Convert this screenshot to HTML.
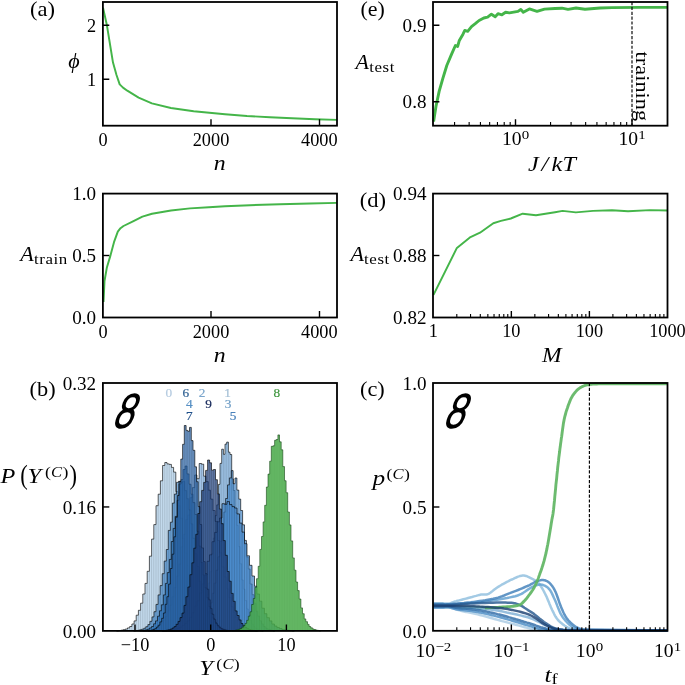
<!DOCTYPE html>
<html><head><meta charset="utf-8"><title>figure</title>
<style>
html,body{margin:0;padding:0;background:#fff;}
svg{display:block;font-family:"Liberation Serif", "DejaVu Serif", serif;}
</style></head><body>
<svg width="685" height="685" viewBox="0 0 685 685">
<rect width="685" height="685" fill="#fff"/>
<polyline points="103.0,7.6 106.8,24.7 113.0,62.6 116.5,75.0 119.7,84.4 123.0,87.6 127.3,90.7 138.6,97.7 151.9,103.4 170.9,108.0 193.7,111.3 225.0,114.2 247.0,116.0 270.0,117.3 292.0,118.3 315.0,119.2 337.0,119.9" fill="none" stroke="#44b549" stroke-width="1.95" stroke-linejoin="round" stroke-linecap="butt" opacity="1" />
<rect x="102.9" y="2.0" width="234.10" height="123.70" fill="none" stroke="#000" stroke-width="1.8"/>
<path d="M211.00 125.7v-6.4M319.50 125.7v-6.4" stroke="#000" stroke-width="1.4" fill="none"/>
<path d="M102.9 25.20h6.4M102.9 79.20h6.4" stroke="#000" stroke-width="1.4" fill="none"/>
<text transform="translate(30.00,15.50) scale(1.1,1)" text-anchor="start" fill="#000" style="font-size:20.5px;" >(a)</text>
<text transform="translate(96.10,31.80)" text-anchor="end" fill="#000" style="font-size:18.3px;" >2</text>
<text transform="translate(96.10,85.80)" text-anchor="end" fill="#000" style="font-size:18.3px;" >1</text>
<text transform="translate(103.00,145.70)" text-anchor="middle" fill="#000" style="font-size:18.3px;" >0</text>
<text transform="translate(211.00,145.70)" text-anchor="middle" fill="#000" style="font-size:18.3px;" >2000</text>
<text transform="translate(319.30,145.70)" text-anchor="middle" fill="#000" style="font-size:18.3px;" >4000</text>
<text transform="translate(219.70,169.80) scale(1.08,1)" text-anchor="middle" fill="#000" style="font-size:22px;font-style:italic;" >n</text>
<text transform="translate(74.00,68.30)" text-anchor="middle" fill="#000" style="font-size:22px;font-style:italic;" >ϕ</text>
<polyline points="103.5,302.0 104.5,281.0 106.8,267.8 110.2,256.4 114.0,242.2 117.8,231.7 120.5,228.2 123.5,226.0 133.0,221.3 142.4,216.6 152.0,213.7 171.0,210.5 190.0,208.4 208.9,207.3 225.0,206.3 250.0,205.2 280.0,204.2 310.0,203.5 337.0,202.9" fill="none" stroke="#44b549" stroke-width="1.95" stroke-linejoin="round" stroke-linecap="butt" opacity="1" />
<rect x="102.9" y="193.6" width="234.10" height="123.90" fill="none" stroke="#000" stroke-width="1.8"/>
<path d="M211.00 317.5v-6.4M319.50 317.5v-6.4" stroke="#000" stroke-width="1.4" fill="none"/>
<path d="M102.9 255.50h6.4" stroke="#000" stroke-width="1.4" fill="none"/>
<text transform="translate(96.10,200.00) scale(1.045,1)" text-anchor="end" fill="#000" style="font-size:18.3px;" >1.0</text>
<text transform="translate(96.10,262.00) scale(1.045,1)" text-anchor="end" fill="#000" style="font-size:18.3px;" >0.5</text>
<text transform="translate(96.10,324.00) scale(1.045,1)" text-anchor="end" fill="#000" style="font-size:18.3px;" >0.0</text>
<text transform="translate(103.00,337.50)" text-anchor="middle" fill="#000" style="font-size:18.3px;" >0</text>
<text transform="translate(211.00,337.50)" text-anchor="middle" fill="#000" style="font-size:18.3px;" >2000</text>
<text transform="translate(319.30,337.50)" text-anchor="middle" fill="#000" style="font-size:18.3px;" >4000</text>
<text transform="translate(219.70,361.60) scale(1.08,1)" text-anchor="middle" fill="#000" style="font-size:22px;font-style:italic;" >n</text>
<text transform="translate(20.20,260.90)" text-anchor="start" fill="#000" style="font-size:22px;font-style:italic;" >A</text>
<text transform="translate(34.00,263.70) scale(1.1,1)" text-anchor="start" fill="#000" style="font-size:15.4px;letter-spacing:0.5px;" >train</text>
<polyline points="433.6,121.6 434.3,117.0 436.0,106.3 439.2,91.1 443.0,77.8 446.8,65.5 451.6,54.1 455.4,45.5 457.6,46.5 459.2,40.8 463.0,34.2 464.8,30.4 467.7,31.3 471.5,26.6 475.3,23.7 479.1,20.5 483.8,18.0 487.6,17.1 491.4,14.2 495.2,16.7 498.0,13.7 501.9,14.8 505.6,12.3 509.4,12.9 518.0,11.4 520.8,9.5 523.3,12.3 529.4,8.9 537.0,11.4 544.5,9.1 555.0,8.5 562.0,8.2 568.0,9.4 576.0,8.0 585.0,9.2 600.0,8.0 612.0,7.6 640.0,7.4 667.5,7.4" fill="none" stroke="#44b549" stroke-width="2.9" stroke-linejoin="round" stroke-linecap="butt" opacity="1" />
<rect x="433.0" y="2.0" width="234.50" height="123.70" fill="none" stroke="#000" stroke-width="1.8"/>
<path d="M454.58 125.7v-3.6M469.14 125.7v-3.6M480.43 125.7v-3.6M489.65 125.7v-3.6M497.45 125.7v-3.6M504.21 125.7v-3.6M510.17 125.7v-3.6M550.57 125.7v-3.6M571.08 125.7v-3.6M585.64 125.7v-3.6M596.93 125.7v-3.6M606.15 125.7v-3.6M613.95 125.7v-3.6M620.71 125.7v-3.6M626.67 125.7v-3.6" stroke="#000" stroke-width="1.1" fill="none"/>
<path d="M515.50 125.7v-6.4M632.00 125.7v-6.4" stroke="#000" stroke-width="1.4" fill="none"/>
<path d="M433.0 25.20h6.4M433.0 101.80h6.4" stroke="#000" stroke-width="1.4" fill="none"/>
<path d="M632.0 2.0V125.7" stroke="#000" stroke-width="1.15" stroke-dasharray="3.2 1.65" fill="none"/>
<text transform="translate(360.50,15.50) scale(1.07,1)" text-anchor="start" fill="#000" style="font-size:20.5px;" >(e)</text>
<text transform="translate(426.50,31.80) scale(1.045,1)" text-anchor="end" fill="#000" style="font-size:18.3px;" >0.9</text>
<text transform="translate(426.50,107.50) scale(1.045,1)" text-anchor="end" fill="#000" style="font-size:18.3px;" >0.8</text>
<text transform="translate(501.97,144.70) scale(1.07,1)" text-anchor="start" fill="#000" style="font-size:18.3px;" >10</text>
<text transform="translate(521.85,138.80) scale(1.15,1)" text-anchor="start" fill="#000" style="font-size:13.0px;" >0</text>
<text transform="translate(618.47,144.70) scale(1.07,1)" text-anchor="start" fill="#000" style="font-size:18.3px;" >10</text>
<text transform="translate(638.35,138.80) scale(1.15,1)" text-anchor="start" fill="#000" style="font-size:13.0px;" >1</text>
<text transform="translate(552.20,171.00) scale(1.1,1)" text-anchor="middle" fill="#000" style="font-size:22px;font-style:italic;letter-spacing:0.3px;" >J<tspan dx="2.2">/</tspan><tspan dx="2.6">kT</tspan></text>
<text transform="translate(355.60,68.70)" text-anchor="start" fill="#000" style="font-size:22px;font-style:italic;" >A</text>
<text transform="translate(369.20,71.80) scale(1.1,1)" text-anchor="start" fill="#000" style="font-size:15.4px;letter-spacing:0.5px;" >test</text>
<text transform="translate(635.90,51.60) rotate(90) scale(1.155,1)" text-anchor="start" fill="#000" style="font-size:19.4px;" >training</text>
<polyline points="433.5,294.9 456.9,247.9 470.5,237.1 480.0,232.7 493.3,223.2 500.9,220.9 510.8,218.5 522.7,213.7 536.0,215.2 555.0,212.2 562.6,210.9 575.9,212.4 593.0,210.9 612.0,210.3 628.0,211.2 650.0,210.1 667.5,210.5" fill="none" stroke="#44b549" stroke-width="1.95" stroke-linejoin="round" stroke-linecap="butt" opacity="1" />
<rect x="433.0" y="193.6" width="234.50" height="123.90" fill="none" stroke="#000" stroke-width="1.8"/>
<path d="M456.80 317.5v-3.6M470.54 317.5v-3.6M480.29 317.5v-3.6M487.85 317.5v-3.6M494.03 317.5v-3.6M499.26 317.5v-3.6M503.79 317.5v-3.6M507.78 317.5v-3.6M534.85 317.5v-3.6M548.59 317.5v-3.6M558.34 317.5v-3.6M565.90 317.5v-3.6M572.08 317.5v-3.6M577.31 317.5v-3.6M581.84 317.5v-3.6M585.83 317.5v-3.6M612.90 317.5v-3.6M626.64 317.5v-3.6M636.39 317.5v-3.6M643.95 317.5v-3.6M650.13 317.5v-3.6M655.36 317.5v-3.6M659.89 317.5v-3.6M663.88 317.5v-3.6" stroke="#000" stroke-width="1.1" fill="none"/>
<path d="M511.35 317.5v-6.4M589.40 317.5v-6.4" stroke="#000" stroke-width="1.4" fill="none"/>
<path d="M433.0 255.50h6.4" stroke="#000" stroke-width="1.4" fill="none"/>
<text transform="translate(359.80,206.70) scale(1.1,1)" text-anchor="start" fill="#000" style="font-size:20.5px;" >(d)</text>
<text transform="translate(426.50,200.40) scale(1.045,1)" text-anchor="end" fill="#000" style="font-size:18.3px;" >0.94</text>
<text transform="translate(426.50,262.30) scale(1.045,1)" text-anchor="end" fill="#000" style="font-size:18.3px;" >0.88</text>
<text transform="translate(426.50,324.10) scale(1.045,1)" text-anchor="end" fill="#000" style="font-size:18.3px;" >0.82</text>
<text transform="translate(433.30,337.20)" text-anchor="middle" fill="#000" style="font-size:18.3px;" >1</text>
<text transform="translate(511.35,337.20)" text-anchor="middle" fill="#000" style="font-size:18.3px;" >10</text>
<text transform="translate(589.40,337.20)" text-anchor="middle" fill="#000" style="font-size:18.3px;" >100</text>
<text transform="translate(667.45,337.20)" text-anchor="middle" fill="#000" style="font-size:18.3px;" >1000</text>
<text transform="translate(551.70,361.70) scale(1.07,1)" text-anchor="middle" fill="#000" style="font-size:22px;font-style:italic;" >M</text>
<text transform="translate(350.60,260.50)" text-anchor="start" fill="#000" style="font-size:22px;font-style:italic;" >A</text>
<text transform="translate(364.10,263.60) scale(1.1,1)" text-anchor="start" fill="#000" style="font-size:15.4px;letter-spacing:0.5px;" >test</text>
<path d="M116.5 630.9V630.9H118.7V630.5H120.9V630.2H123.1V629.7H125.3V629.0H127.5V627.9H129.7V626.5H131.9V624.0H134.1V620.9H136.2V615.2H138.4V610.3H140.6V603.2H142.8V594.0H145.0V583.4H147.2V571.3H149.4V556.2H151.6V539.1H153.8V524.6H156.0V505.7H158.2V494.2H160.4V480.8H162.6V465.5H164.8V462.5H167.0V463.9H169.2V464.4H171.4V467.4H173.6V472.1H175.8V491.6H178.0V505.8H180.2V518.3H182.4V538.6H184.5V552.9H186.7V565.8H188.9V579.6H191.1V591.6H193.3V600.8H195.5V610.4H197.7V614.8H199.9V620.1H202.1V623.6H204.3V625.8H206.5V627.5H208.7V628.8H210.9V629.6H213.1V630.1H215.3V630.4H217.5V630.9H219.7V630.9Z" fill="#aacbe6" fill-opacity="0.7" stroke="none"/>
<path d="M118.7 630.9V630.9M120.9 630.9V630.5M123.1 630.9V630.2M125.3 630.9V629.7M127.5 630.9V629.0M129.7 630.9V627.9M131.9 630.9V626.5M134.1 630.9V624.0M136.2 630.9V620.9M138.4 630.9V615.2M140.6 630.9V610.3M142.8 630.9V603.2M145.0 630.9V594.0M147.2 630.9V583.4M149.4 630.9V571.3M151.6 630.9V556.2M153.8 630.9V539.1M156.0 630.9V524.6M158.2 630.9V505.7M160.4 630.9V494.2M162.6 630.9V480.8M164.8 630.9V465.5M167.0 630.9V463.9M169.2 630.9V464.4M171.4 630.9V467.4M173.6 630.9V472.1M175.8 630.9V491.6M178.0 630.9V505.8M180.2 630.9V518.3M182.4 630.9V538.6M184.5 630.9V552.9M186.7 630.9V565.8M188.9 630.9V579.6M191.1 630.9V591.6M193.3 630.9V600.8M195.5 630.9V610.4M197.7 630.9V614.8M199.9 630.9V620.1M202.1 630.9V623.6M204.3 630.9V625.8M206.5 630.9V627.5M208.7 630.9V628.8M210.9 630.9V629.6M213.1 630.9V630.1M215.3 630.9V630.4M217.5 630.9V630.9" fill="none" stroke="#000" stroke-opacity="0.26" stroke-width="0.5"/>
<path d="M116.5 630.9V630.9H118.7V630.5H120.9V630.2H123.1V629.7H125.3V629.0H127.5V627.9H129.7V626.5H131.9V624.0H134.1V620.9H136.2V615.2H138.4V610.3H140.6V603.2H142.8V594.0H145.0V583.4H147.2V571.3H149.4V556.2H151.6V539.1H153.8V524.6H156.0V505.7H158.2V494.2H160.4V480.8H162.6V465.5H164.8V462.5H167.0V463.9H169.2V464.4H171.4V467.4H173.6V472.1H175.8V491.6H178.0V505.8H180.2V518.3H182.4V538.6H184.5V552.9H186.7V565.8H188.9V579.6H191.1V591.6H193.3V600.8H195.5V610.4H197.7V614.8H199.9V620.1H202.1V623.6H204.3V625.8H206.5V627.5H208.7V628.8H210.9V629.6H213.1V630.1H215.3V630.4H217.5V630.9H219.7V630.9Z" fill="none" stroke="#000" stroke-opacity="0.9" stroke-width="0.7" stroke-linejoin="miter"/>
<path d="M188.4 630.9V630.9H190.1V630.4H191.7V630.0H193.4V629.5H195.1V628.6H196.7V627.1H198.4V625.0H200.1V622.2H201.7V618.2H203.4V612.1H205.1V606.2H206.7V594.7H208.4V583.0H210.1V571.7H211.7V553.5H213.4V538.0H215.1V515.6H216.7V504.9H218.4V484.4H220.0V463.4H221.7V449.2H223.4V454.3H225.0V444.1H226.7V442.1H228.4V452.2H230.0V454.5H231.7V478.9H233.4V490.5H235.0V512.7H236.7V525.4H238.4V546.6H240.0V563.8H241.7V580.0H243.4V589.2H245.0V600.6H246.7V609.0H248.4V615.4H250.0V620.5H251.7V624.1H253.4V626.5H255.0V628.1H256.7V629.1H258.4V629.9H260.0V630.3H261.7V630.9H263.3V630.9Z" fill="#74aadb" fill-opacity="0.7" stroke="none"/>
<path d="M190.1 630.9V630.9M191.7 630.9V630.4M193.4 630.9V630.0M195.1 630.9V629.5M196.7 630.9V628.6M198.4 630.9V627.1M200.1 630.9V625.0M201.7 630.9V622.2M203.4 630.9V618.2M205.1 630.9V612.1M206.7 630.9V606.2M208.4 630.9V594.7M210.1 630.9V583.0M211.7 630.9V571.7M213.4 630.9V553.5M215.1 630.9V538.0M216.7 630.9V515.6M218.4 630.9V504.9M220.0 630.9V484.4M221.7 630.9V463.4M223.4 630.9V454.3M225.0 630.9V454.3M226.7 630.9V444.1M228.4 630.9V452.2M230.0 630.9V454.5M231.7 630.9V478.9M233.4 630.9V490.5M235.0 630.9V512.7M236.7 630.9V525.4M238.4 630.9V546.6M240.0 630.9V563.8M241.7 630.9V580.0M243.4 630.9V589.2M245.0 630.9V600.6M246.7 630.9V609.0M248.4 630.9V615.4M250.0 630.9V620.5M251.7 630.9V624.1M253.4 630.9V626.5M255.0 630.9V628.1M256.7 630.9V629.1M258.4 630.9V629.9M260.0 630.9V630.3M261.7 630.9V630.9" fill="none" stroke="#000" stroke-opacity="0.26" stroke-width="0.5"/>
<path d="M188.4 630.9V630.9H190.1V630.4H191.7V630.0H193.4V629.5H195.1V628.6H196.7V627.1H198.4V625.0H200.1V622.2H201.7V618.2H203.4V612.1H205.1V606.2H206.7V594.7H208.4V583.0H210.1V571.7H211.7V553.5H213.4V538.0H215.1V515.6H216.7V504.9H218.4V484.4H220.0V463.4H221.7V449.2H223.4V454.3H225.0V444.1H226.7V442.1H228.4V452.2H230.0V454.5H231.7V478.9H233.4V490.5H235.0V512.7H236.7V525.4H238.4V546.6H240.0V563.8H241.7V580.0H243.4V589.2H245.0V600.6H246.7V609.0H248.4V615.4H250.0V620.5H251.7V624.1H253.4V626.5H255.0V628.1H256.7V629.1H258.4V629.9H260.0V630.3H261.7V630.9H263.3V630.9Z" fill="none" stroke="#000" stroke-opacity="0.9" stroke-width="0.7" stroke-linejoin="miter"/>
<path d="M142.4 630.9V630.9H144.7V630.9H147.0V630.3H149.2V630.0H151.5V629.4H153.8V628.5H156.0V627.3H158.3V625.7H160.6V623.5H162.9V620.3H165.1V616.4H167.4V610.8H169.7V605.2H171.9V596.8H174.2V587.6H176.5V576.0H178.8V564.2H181.0V546.9H183.3V534.3H185.6V519.7H187.8V515.0H190.1V497.7H192.4V487.6H194.7V475.0H196.9V478.7H199.2V463.5H201.5V464.2H203.7V476.2H206.0V481.6H208.3V490.2H210.5V499.1H212.8V510.5H215.1V521.4H217.4V540.6H219.6V552.8H221.9V566.9H224.2V577.0H226.4V588.8H228.7V597.6H231.0V606.7H233.3V612.4H235.5V617.5H237.8V620.8H240.1V623.9H242.3V626.1H244.6V627.7H246.9V628.7H249.2V629.5H251.4V630.0H253.7V630.3H256.0V630.9H258.2V630.9Z" fill="#7aaada" fill-opacity="0.7" stroke="none"/>
<path d="M144.7 630.9V630.9M147.0 630.9V630.9M149.2 630.9V630.3M151.5 630.9V630.0M153.8 630.9V629.4M156.0 630.9V628.5M158.3 630.9V627.3M160.6 630.9V625.7M162.9 630.9V623.5M165.1 630.9V620.3M167.4 630.9V616.4M169.7 630.9V610.8M171.9 630.9V605.2M174.2 630.9V596.8M176.5 630.9V587.6M178.8 630.9V576.0M181.0 630.9V564.2M183.3 630.9V546.9M185.6 630.9V534.3M187.8 630.9V519.7M190.1 630.9V515.0M192.4 630.9V497.7M194.7 630.9V487.6M196.9 630.9V478.7M199.2 630.9V478.7M201.5 630.9V464.2M203.7 630.9V476.2M206.0 630.9V481.6M208.3 630.9V490.2M210.5 630.9V499.1M212.8 630.9V510.5M215.1 630.9V521.4M217.4 630.9V540.6M219.6 630.9V552.8M221.9 630.9V566.9M224.2 630.9V577.0M226.4 630.9V588.8M228.7 630.9V597.6M231.0 630.9V606.7M233.3 630.9V612.4M235.5 630.9V617.5M237.8 630.9V620.8M240.1 630.9V623.9M242.3 630.9V626.1M244.6 630.9V627.7M246.9 630.9V628.7M249.2 630.9V629.5M251.4 630.9V630.0M253.7 630.9V630.3M256.0 630.9V630.9" fill="none" stroke="#000" stroke-opacity="0.26" stroke-width="0.5"/>
<path d="M142.4 630.9V630.9H144.7V630.9H147.0V630.3H149.2V630.0H151.5V629.4H153.8V628.5H156.0V627.3H158.3V625.7H160.6V623.5H162.9V620.3H165.1V616.4H167.4V610.8H169.7V605.2H171.9V596.8H174.2V587.6H176.5V576.0H178.8V564.2H181.0V546.9H183.3V534.3H185.6V519.7H187.8V515.0H190.1V497.7H192.4V487.6H194.7V475.0H196.9V478.7H199.2V463.5H201.5V464.2H203.7V476.2H206.0V481.6H208.3V490.2H210.5V499.1H212.8V510.5H215.1V521.4H217.4V540.6H219.6V552.8H221.9V566.9H224.2V577.0H226.4V588.8H228.7V597.6H231.0V606.7H233.3V612.4H235.5V617.5H237.8V620.8H240.1V623.9H242.3V626.1H244.6V627.7H246.9V628.7H249.2V629.5H251.4V630.0H253.7V630.3H256.0V630.9H258.2V630.9Z" fill="none" stroke="#000" stroke-opacity="0.9" stroke-width="0.7" stroke-linejoin="miter"/>
<path d="M189.6 630.9V630.9H191.5V630.5H193.4V630.2H195.3V629.8H197.2V629.0H199.1V627.9H201.0V626.3H202.9V623.9H204.8V620.6H206.7V616.1H208.5V610.9H210.4V602.9H212.3V593.3H214.2V583.1H216.1V570.2H218.0V556.8H219.9V541.2H221.8V523.5H223.7V512.1H225.6V498.5H227.5V484.9H229.4V477.9H231.3V470.6H233.1V483.7H235.0V478.0H236.9V490.1H238.8V499.1H240.7V510.5H242.6V524.8H244.5V540.4H246.4V557.0H248.3V569.0H250.2V584.0H252.1V594.7H254.0V603.2H255.9V611.2H257.7V616.1H259.6V620.8H261.5V623.9H263.4V626.5H265.3V628.1H267.2V629.1H269.1V629.8H271.0V630.3H272.9V630.9H274.8V630.9Z" fill="#4a8ed2" fill-opacity="0.7" stroke="none"/>
<path d="M191.5 630.9V630.9M193.4 630.9V630.5M195.3 630.9V630.2M197.2 630.9V629.8M199.1 630.9V629.0M201.0 630.9V627.9M202.9 630.9V626.3M204.8 630.9V623.9M206.7 630.9V620.6M208.5 630.9V616.1M210.4 630.9V610.9M212.3 630.9V602.9M214.2 630.9V593.3M216.1 630.9V583.1M218.0 630.9V570.2M219.9 630.9V556.8M221.8 630.9V541.2M223.7 630.9V523.5M225.6 630.9V512.1M227.5 630.9V498.5M229.4 630.9V484.9M231.3 630.9V477.9M233.1 630.9V483.7M235.0 630.9V483.7M236.9 630.9V490.1M238.8 630.9V499.1M240.7 630.9V510.5M242.6 630.9V524.8M244.5 630.9V540.4M246.4 630.9V557.0M248.3 630.9V569.0M250.2 630.9V584.0M252.1 630.9V594.7M254.0 630.9V603.2M255.9 630.9V611.2M257.7 630.9V616.1M259.6 630.9V620.8M261.5 630.9V623.9M263.4 630.9V626.5M265.3 630.9V628.1M267.2 630.9V629.1M269.1 630.9V629.8M271.0 630.9V630.3M272.9 630.9V630.9" fill="none" stroke="#000" stroke-opacity="0.26" stroke-width="0.5"/>
<path d="M189.6 630.9V630.9H191.5V630.5H193.4V630.2H195.3V629.8H197.2V629.0H199.1V627.9H201.0V626.3H202.9V623.9H204.8V620.6H206.7V616.1H208.5V610.9H210.4V602.9H212.3V593.3H214.2V583.1H216.1V570.2H218.0V556.8H219.9V541.2H221.8V523.5H223.7V512.1H225.6V498.5H227.5V484.9H229.4V477.9H231.3V470.6H233.1V483.7H235.0V478.0H236.9V490.1H238.8V499.1H240.7V510.5H242.6V524.8H244.5V540.4H246.4V557.0H248.3V569.0H250.2V584.0H252.1V594.7H254.0V603.2H255.9V611.2H257.7V616.1H259.6V620.8H261.5V623.9H263.4V626.5H265.3V628.1H267.2V629.1H269.1V629.8H271.0V630.3H272.9V630.9H274.8V630.9Z" fill="none" stroke="#000" stroke-opacity="0.9" stroke-width="0.7" stroke-linejoin="miter"/>
<path d="M133.6 630.9V630.9H135.6V630.5H137.6V630.3H139.7V629.8H141.7V629.2H143.8V628.2H145.8V626.7H147.9V624.6H149.9V621.3H152.0V616.9H154.0V611.7H156.0V604.4H158.1V594.9H160.1V585.6H162.2V573.7H164.2V561.1H166.3V549.5H168.3V530.4H170.4V522.2H172.4V503.1H174.4V494.1H176.5V482.3H178.5V481.3H180.6V482.6H182.6V481.4H184.7V490.6H186.7V498.7H188.7V509.9H190.8V523.9H192.8V538.3H194.9V553.8H196.9V566.5H199.0V581.4H201.0V590.4H203.1V600.7H205.1V607.2H207.1V613.7H209.2V619.5H211.2V622.7H213.3V625.4H215.3V627.4H217.4V628.6H219.4V629.5H221.4V630.1H223.5V630.4H225.5V630.9H227.6V630.9Z" fill="#4a8ccc" fill-opacity="0.7" stroke="none"/>
<path d="M135.6 630.9V630.9M137.6 630.9V630.5M139.7 630.9V630.3M141.7 630.9V629.8M143.8 630.9V629.2M145.8 630.9V628.2M147.9 630.9V626.7M149.9 630.9V624.6M152.0 630.9V621.3M154.0 630.9V616.9M156.0 630.9V611.7M158.1 630.9V604.4M160.1 630.9V594.9M162.2 630.9V585.6M164.2 630.9V573.7M166.3 630.9V561.1M168.3 630.9V549.5M170.4 630.9V530.4M172.4 630.9V522.2M174.4 630.9V503.1M176.5 630.9V494.1M178.5 630.9V482.3M180.6 630.9V482.6M182.6 630.9V482.6M184.7 630.9V490.6M186.7 630.9V498.7M188.7 630.9V509.9M190.8 630.9V523.9M192.8 630.9V538.3M194.9 630.9V553.8M196.9 630.9V566.5M199.0 630.9V581.4M201.0 630.9V590.4M203.1 630.9V600.7M205.1 630.9V607.2M207.1 630.9V613.7M209.2 630.9V619.5M211.2 630.9V622.7M213.3 630.9V625.4M215.3 630.9V627.4M217.4 630.9V628.6M219.4 630.9V629.5M221.4 630.9V630.1M223.5 630.9V630.4M225.5 630.9V630.9" fill="none" stroke="#000" stroke-opacity="0.26" stroke-width="0.5"/>
<path d="M133.6 630.9V630.9H135.6V630.5H137.6V630.3H139.7V629.8H141.7V629.2H143.8V628.2H145.8V626.7H147.9V624.6H149.9V621.3H152.0V616.9H154.0V611.7H156.0V604.4H158.1V594.9H160.1V585.6H162.2V573.7H164.2V561.1H166.3V549.5H168.3V530.4H170.4V522.2H172.4V503.1H174.4V494.1H176.5V482.3H178.5V481.3H180.6V482.6H182.6V481.4H184.7V490.6H186.7V498.7H188.7V509.9H190.8V523.9H192.8V538.3H194.9V553.8H196.9V566.5H199.0V581.4H201.0V590.4H203.1V600.7H205.1V607.2H207.1V613.7H209.2V619.5H211.2V622.7H213.3V625.4H215.3V627.4H217.4V628.6H219.4V629.5H221.4V630.1H223.5V630.4H225.5V630.9H227.6V630.9Z" fill="none" stroke="#000" stroke-opacity="0.9" stroke-width="0.7" stroke-linejoin="miter"/>
<path d="M162.0 630.9V630.9H164.5V630.9H167.0V630.4H169.5V630.2H172.0V629.8H174.5V629.2H177.0V628.4H179.5V627.3H182.0V625.4H184.5V623.5H187.0V621.0H189.5V617.4H192.0V612.7H194.5V606.1H197.0V600.8H199.5V593.0H202.0V583.9H204.5V574.9H207.0V561.3H209.5V554.8H212.0V541.7H214.5V532.4H217.0V521.8H219.5V518.0H222.0V503.7H224.5V504.3H227.0V501.6H229.5V504.6H232.0V506.6H234.5V508.0H237.0V513.9H239.5V523.1H242.0V532.1H244.5V543.7H247.0V555.8H249.5V565.3H252.0V576.0H254.5V586.2H257.0V594.0H259.5V601.2H261.9V608.2H264.4V613.7H266.9V617.7H269.4V620.9H271.9V624.0H274.4V626.0H276.9V627.5H279.4V628.5H281.9V629.4H284.4V629.9H286.9V630.2H289.4V630.5H291.9V630.9H294.4V630.9Z" fill="#4488cc" fill-opacity="0.7" stroke="none"/>
<path d="M164.5 630.9V630.9M167.0 630.9V630.9M169.5 630.9V630.4M172.0 630.9V630.2M174.5 630.9V629.8M177.0 630.9V629.2M179.5 630.9V628.4M182.0 630.9V627.3M184.5 630.9V625.4M187.0 630.9V623.5M189.5 630.9V621.0M192.0 630.9V617.4M194.5 630.9V612.7M197.0 630.9V606.1M199.5 630.9V600.8M202.0 630.9V593.0M204.5 630.9V583.9M207.0 630.9V574.9M209.5 630.9V561.3M212.0 630.9V554.8M214.5 630.9V541.7M217.0 630.9V532.4M219.5 630.9V521.8M222.0 630.9V518.0M224.5 630.9V504.3M227.0 630.9V504.3M229.5 630.9V504.6M232.0 630.9V506.6M234.5 630.9V508.0M237.0 630.9V513.9M239.5 630.9V523.1M242.0 630.9V532.1M244.5 630.9V543.7M247.0 630.9V555.8M249.5 630.9V565.3M252.0 630.9V576.0M254.5 630.9V586.2M257.0 630.9V594.0M259.5 630.9V601.2M261.9 630.9V608.2M264.4 630.9V613.7M266.9 630.9V617.7M269.4 630.9V620.9M271.9 630.9V624.0M274.4 630.9V626.0M276.9 630.9V627.5M279.4 630.9V628.5M281.9 630.9V629.4M284.4 630.9V629.9M286.9 630.9V630.2M289.4 630.9V630.5M291.9 630.9V630.9" fill="none" stroke="#000" stroke-opacity="0.26" stroke-width="0.5"/>
<path d="M162.0 630.9V630.9H164.5V630.9H167.0V630.4H169.5V630.2H172.0V629.8H174.5V629.2H177.0V628.4H179.5V627.3H182.0V625.4H184.5V623.5H187.0V621.0H189.5V617.4H192.0V612.7H194.5V606.1H197.0V600.8H199.5V593.0H202.0V583.9H204.5V574.9H207.0V561.3H209.5V554.8H212.0V541.7H214.5V532.4H217.0V521.8H219.5V518.0H222.0V503.7H224.5V504.3H227.0V501.6H229.5V504.6H232.0V506.6H234.5V508.0H237.0V513.9H239.5V523.1H242.0V532.1H244.5V543.7H247.0V555.8H249.5V565.3H252.0V576.0H254.5V586.2H257.0V594.0H259.5V601.2H261.9V608.2H264.4V613.7H266.9V617.7H269.4V620.9H271.9V624.0H274.4V626.0H276.9V627.5H279.4V628.5H281.9V629.4H284.4V629.9H286.9V630.2H289.4V630.5H291.9V630.9H294.4V630.9Z" fill="none" stroke="#000" stroke-opacity="0.9" stroke-width="0.7" stroke-linejoin="miter"/>
<path d="M139.8 630.9V630.9H141.8V630.5H143.7V630.2H145.7V629.8H147.7V629.1H149.6V627.9H151.6V626.5H153.6V623.8H155.5V620.9H157.5V616.2H159.5V610.8H161.4V604.8H163.4V594.9H165.4V583.4H167.3V572.6H169.3V559.4H171.3V541.5H173.2V528.4H175.2V516.4H177.2V500.3H179.1V484.0H181.1V479.5H183.1V469.5H185.1V466.0H187.0V473.9H189.0V484.2H191.0V494.2H192.9V502.6H194.9V514.5H196.9V531.3H198.8V546.1H200.8V562.5H202.8V575.0H204.7V587.8H206.7V597.8H208.7V606.7H210.6V613.4H212.6V618.2H214.6V622.2H216.5V625.0H218.5V626.9H220.5V628.4H222.4V629.2H224.4V629.9H226.4V630.3H228.4V630.9H230.3V630.9Z" fill="#2a72bc" fill-opacity="0.7" stroke="none"/>
<path d="M141.8 630.9V630.9M143.7 630.9V630.5M145.7 630.9V630.2M147.7 630.9V629.8M149.6 630.9V629.1M151.6 630.9V627.9M153.6 630.9V626.5M155.5 630.9V623.8M157.5 630.9V620.9M159.5 630.9V616.2M161.4 630.9V610.8M163.4 630.9V604.8M165.4 630.9V594.9M167.3 630.9V583.4M169.3 630.9V572.6M171.3 630.9V559.4M173.2 630.9V541.5M175.2 630.9V528.4M177.2 630.9V516.4M179.1 630.9V500.3M181.1 630.9V484.0M183.1 630.9V479.5M185.1 630.9V469.5M187.0 630.9V473.9M189.0 630.9V484.2M191.0 630.9V494.2M192.9 630.9V502.6M194.9 630.9V514.5M196.9 630.9V531.3M198.8 630.9V546.1M200.8 630.9V562.5M202.8 630.9V575.0M204.7 630.9V587.8M206.7 630.9V597.8M208.7 630.9V606.7M210.6 630.9V613.4M212.6 630.9V618.2M214.6 630.9V622.2M216.5 630.9V625.0M218.5 630.9V626.9M220.5 630.9V628.4M222.4 630.9V629.2M224.4 630.9V629.9M226.4 630.9V630.3M228.4 630.9V630.9" fill="none" stroke="#000" stroke-opacity="0.26" stroke-width="0.5"/>
<path d="M139.8 630.9V630.9H141.8V630.5H143.7V630.2H145.7V629.8H147.7V629.1H149.6V627.9H151.6V626.5H153.6V623.8H155.5V620.9H157.5V616.2H159.5V610.8H161.4V604.8H163.4V594.9H165.4V583.4H167.3V572.6H169.3V559.4H171.3V541.5H173.2V528.4H175.2V516.4H177.2V500.3H179.1V484.0H181.1V479.5H183.1V469.5H185.1V466.0H187.0V473.9H189.0V484.2H191.0V494.2H192.9V502.6H194.9V514.5H196.9V531.3H198.8V546.1H200.8V562.5H202.8V575.0H204.7V587.8H206.7V597.8H208.7V606.7H210.6V613.4H212.6V618.2H214.6V622.2H216.5V625.0H218.5V626.9H220.5V628.4H222.4V629.2H224.4V629.9H226.4V630.3H228.4V630.9H230.3V630.9Z" fill="none" stroke="#000" stroke-opacity="0.9" stroke-width="0.7" stroke-linejoin="miter"/>
<path d="M147.8 630.9V630.9H149.5V630.4H151.2V630.0H153.0V629.5H154.7V628.7H156.5V627.1H158.2V625.2H159.9V621.9H161.7V618.3H163.4V613.0H165.2V604.3H166.9V596.7H168.6V584.1H170.4V568.5H172.1V554.2H173.9V536.8H175.6V517.3H177.4V495.5H179.1V481.6H180.8V459.1H182.6V444.3H184.3V425.5H186.1V430.4H187.8V431.3H189.5V427.4H191.3V440.6H193.0V450.3H194.8V466.8H196.5V481.7H198.2V506.6H200.0V524.5H201.7V547.9H203.5V561.6H205.2V573.6H207.0V589.2H208.7V599.8H210.4V608.6H212.2V614.4H213.9V619.6H215.7V623.5H217.4V625.8H219.1V627.7H220.9V628.9H222.6V629.7H224.4V630.1H226.1V630.5H227.8V630.9Z" fill="#2a64a8" fill-opacity="0.7" stroke="none"/>
<path d="M149.5 630.9V630.9M151.2 630.9V630.4M153.0 630.9V630.0M154.7 630.9V629.5M156.5 630.9V628.7M158.2 630.9V627.1M159.9 630.9V625.2M161.7 630.9V621.9M163.4 630.9V618.3M165.2 630.9V613.0M166.9 630.9V604.3M168.6 630.9V596.7M170.4 630.9V584.1M172.1 630.9V568.5M173.9 630.9V554.2M175.6 630.9V536.8M177.4 630.9V517.3M179.1 630.9V495.5M180.8 630.9V481.6M182.6 630.9V459.1M184.3 630.9V444.3M186.1 630.9V430.4M187.8 630.9V431.3M189.5 630.9V431.3M191.3 630.9V440.6M193.0 630.9V450.3M194.8 630.9V466.8M196.5 630.9V481.7M198.2 630.9V506.6M200.0 630.9V524.5M201.7 630.9V547.9M203.5 630.9V561.6M205.2 630.9V573.6M207.0 630.9V589.2M208.7 630.9V599.8M210.4 630.9V608.6M212.2 630.9V614.4M213.9 630.9V619.6M215.7 630.9V623.5M217.4 630.9V625.8M219.1 630.9V627.7M220.9 630.9V628.9M222.6 630.9V629.7M224.4 630.9V630.1M226.1 630.9V630.5" fill="none" stroke="#000" stroke-opacity="0.26" stroke-width="0.5"/>
<path d="M147.8 630.9V630.9H149.5V630.4H151.2V630.0H153.0V629.5H154.7V628.7H156.5V627.1H158.2V625.2H159.9V621.9H161.7V618.3H163.4V613.0H165.2V604.3H166.9V596.7H168.6V584.1H170.4V568.5H172.1V554.2H173.9V536.8H175.6V517.3H177.4V495.5H179.1V481.6H180.8V459.1H182.6V444.3H184.3V425.5H186.1V430.4H187.8V431.3H189.5V427.4H191.3V440.6H193.0V450.3H194.8V466.8H196.5V481.7H198.2V506.6H200.0V524.5H201.7V547.9H203.5V561.6H205.2V573.6H207.0V589.2H208.7V599.8H210.4V608.6H212.2V614.4H213.9V619.6H215.7V623.5H217.4V625.8H219.1V627.7H220.9V628.9H222.6V629.7H224.4V630.1H226.1V630.5H227.8V630.9Z" fill="none" stroke="#000" stroke-opacity="0.9" stroke-width="0.7" stroke-linejoin="miter"/>
<path d="M162.3 630.9V630.9H164.3V630.5H166.3V630.2H168.2V629.8H170.2V629.1H172.2V628.0H174.1V626.6H176.1V624.3H178.1V621.4H180.0V617.6H182.0V613.1H184.0V605.4H185.9V596.7H187.9V587.0H189.9V574.7H191.9V562.8H193.8V548.2H195.8V534.3H197.8V513.5H199.7V501.7H201.7V490.4H203.7V482.4H205.6V470.4H207.6V460.0H209.6V462.8H211.5V470.2H213.5V469.5H215.5V479.7H217.4V493.9H219.4V509.0H221.4V523.7H223.3V540.6H225.3V555.3H227.3V571.5H229.2V581.2H231.2V593.4H233.2V601.3H235.2V610.9H237.1V615.5H239.1V619.9H241.1V623.5H243.0V625.8H245.0V627.5H247.0V628.7H248.9V629.6H250.9V630.1H252.9V630.4H254.8V630.9H256.8V630.9Z" fill="#1a3a78" fill-opacity="0.7" stroke="none"/>
<path d="M164.3 630.9V630.9M166.3 630.9V630.5M168.2 630.9V630.2M170.2 630.9V629.8M172.2 630.9V629.1M174.1 630.9V628.0M176.1 630.9V626.6M178.1 630.9V624.3M180.0 630.9V621.4M182.0 630.9V617.6M184.0 630.9V613.1M185.9 630.9V605.4M187.9 630.9V596.7M189.9 630.9V587.0M191.9 630.9V574.7M193.8 630.9V562.8M195.8 630.9V548.2M197.8 630.9V534.3M199.7 630.9V513.5M201.7 630.9V501.7M203.7 630.9V490.4M205.6 630.9V482.4M207.6 630.9V470.4M209.6 630.9V462.8M211.5 630.9V470.2M213.5 630.9V470.2M215.5 630.9V479.7M217.4 630.9V493.9M219.4 630.9V509.0M221.4 630.9V523.7M223.3 630.9V540.6M225.3 630.9V555.3M227.3 630.9V571.5M229.2 630.9V581.2M231.2 630.9V593.4M233.2 630.9V601.3M235.2 630.9V610.9M237.1 630.9V615.5M239.1 630.9V619.9M241.1 630.9V623.5M243.0 630.9V625.8M245.0 630.9V627.5M247.0 630.9V628.7M248.9 630.9V629.6M250.9 630.9V630.1M252.9 630.9V630.4M254.8 630.9V630.9" fill="none" stroke="#000" stroke-opacity="0.26" stroke-width="0.5"/>
<path d="M162.3 630.9V630.9H164.3V630.5H166.3V630.2H168.2V629.8H170.2V629.1H172.2V628.0H174.1V626.6H176.1V624.3H178.1V621.4H180.0V617.6H182.0V613.1H184.0V605.4H185.9V596.7H187.9V587.0H189.9V574.7H191.9V562.8H193.8V548.2H195.8V534.3H197.8V513.5H199.7V501.7H201.7V490.4H203.7V482.4H205.6V470.4H207.6V460.0H209.6V462.8H211.5V470.2H213.5V469.5H215.5V479.7H217.4V493.9H219.4V509.0H221.4V523.7H223.3V540.6H225.3V555.3H227.3V571.5H229.2V581.2H231.2V593.4H233.2V601.3H235.2V610.9H237.1V615.5H239.1V619.9H241.1V623.5H243.0V625.8H245.0V627.5H247.0V628.7H248.9V629.6H250.9V630.1H252.9V630.4H254.8V630.9H256.8V630.9Z" fill="none" stroke="#000" stroke-opacity="0.9" stroke-width="0.7" stroke-linejoin="miter"/>
<path d="M231.9 630.9V630.9H233.5V630.5H235.2V630.2H236.8V629.8H238.5V629.3H240.1V628.5H241.8V627.2H243.4V625.7H245.0V623.4H246.7V620.3H248.3V616.2H250.0V611.8H251.6V604.5H253.3V598.5H254.9V587.3H256.5V578.7H258.2V566.3H259.8V549.4H261.5V536.5H263.1V521.9H264.7V505.3H266.4V487.0H268.0V474.1H269.7V461.2H271.3V446.3H273.0V445.8H274.6V440.3H276.2V439.5H277.9V434.9H279.5V441.8H281.2V449.8H282.8V466.6H284.5V480.7H286.1V492.7H287.7V512.0H289.4V524.9H291.0V540.9H292.7V557.9H294.3V570.2H296.0V582.0H297.6V590.6H299.2V599.0H300.9V607.9H302.5V613.7H304.2V618.9H305.8V621.7H307.5V624.4H309.1V626.5H310.7V627.8H312.4V628.9H314.0V629.5H315.7V630.0H317.3V630.4H319.0V630.9H320.6V630.9Z" fill="#4aad4a" fill-opacity="0.85" stroke="none"/>
<path d="M233.5 630.9V630.9M235.2 630.9V630.5M236.8 630.9V630.2M238.5 630.9V629.8M240.1 630.9V629.3M241.8 630.9V628.5M243.4 630.9V627.2M245.0 630.9V625.7M246.7 630.9V623.4M248.3 630.9V620.3M250.0 630.9V616.2M251.6 630.9V611.8M253.3 630.9V604.5M254.9 630.9V598.5M256.5 630.9V587.3M258.2 630.9V578.7M259.8 630.9V566.3M261.5 630.9V549.4M263.1 630.9V536.5M264.7 630.9V521.9M266.4 630.9V505.3M268.0 630.9V487.0M269.7 630.9V474.1M271.3 630.9V461.2M273.0 630.9V446.3M274.6 630.9V445.8M276.2 630.9V440.3M277.9 630.9V439.5M279.5 630.9V441.8M281.2 630.9V449.8M282.8 630.9V466.6M284.5 630.9V480.7M286.1 630.9V492.7M287.7 630.9V512.0M289.4 630.9V524.9M291.0 630.9V540.9M292.7 630.9V557.9M294.3 630.9V570.2M296.0 630.9V582.0M297.6 630.9V590.6M299.2 630.9V599.0M300.9 630.9V607.9M302.5 630.9V613.7M304.2 630.9V618.9M305.8 630.9V621.7M307.5 630.9V624.4M309.1 630.9V626.5M310.7 630.9V627.8M312.4 630.9V628.9M314.0 630.9V629.5M315.7 630.9V630.0M317.3 630.9V630.4M319.0 630.9V630.9" fill="none" stroke="#0a3a0a" stroke-opacity="0.1" stroke-width="0.5"/>
<path d="M231.9 630.9V630.9H233.5V630.5H235.2V630.2H236.8V629.8H238.5V629.3H240.1V628.5H241.8V627.2H243.4V625.7H245.0V623.4H246.7V620.3H248.3V616.2H250.0V611.8H251.6V604.5H253.3V598.5H254.9V587.3H256.5V578.7H258.2V566.3H259.8V549.4H261.5V536.5H263.1V521.9H264.7V505.3H266.4V487.0H268.0V474.1H269.7V461.2H271.3V446.3H273.0V445.8H274.6V440.3H276.2V439.5H277.9V434.9H279.5V441.8H281.2V449.8H282.8V466.6H284.5V480.7H286.1V492.7H287.7V512.0H289.4V524.9H291.0V540.9H292.7V557.9H294.3V570.2H296.0V582.0H297.6V590.6H299.2V599.0H300.9V607.9H302.5V613.7H304.2V618.9H305.8V621.7H307.5V624.4H309.1V626.5H310.7V627.8H312.4V628.9H314.0V629.5H315.7V630.0H317.3V630.4H319.0V630.9H320.6V630.9Z" fill="none" stroke="#0a3a0a" stroke-opacity="0.8" stroke-width="0.7" stroke-linejoin="miter"/>
<rect x="102.9" y="383.0" width="234.10" height="247.90" fill="none" stroke="#000" stroke-width="1.8"/>
<path d="M135.00 630.9v-6.4M210.70 630.9v-6.4M286.40 630.9v-6.4" stroke="#000" stroke-width="1.4" fill="none"/>
<path d="M102.9 506.95h6.4" stroke="#000" stroke-width="1.4" fill="none"/>
<text transform="translate(29.60,396.30) scale(1.09,1)" text-anchor="start" fill="#000" style="font-size:20.5px;" >(b)</text>
<text transform="translate(96.10,389.60) scale(1.045,1)" text-anchor="end" fill="#000" style="font-size:18.3px;" >0.32</text>
<text transform="translate(96.10,513.60) scale(1.045,1)" text-anchor="end" fill="#000" style="font-size:18.3px;" >0.16</text>
<text transform="translate(96.10,637.60) scale(1.045,1)" text-anchor="end" fill="#000" style="font-size:18.3px;" >0.00</text>
<text transform="translate(135.00,650.90)" text-anchor="middle" fill="#000" style="font-size:18.3px;" >−10</text>
<text transform="translate(210.70,650.90)" text-anchor="middle" fill="#000" style="font-size:18.3px;" >0</text>
<text transform="translate(286.40,650.90)" text-anchor="middle" fill="#000" style="font-size:18.3px;" >10</text>
<text transform="translate(199.20,675.30) scale(1.12,1)" text-anchor="start" fill="#000" style="font-size:22px;font-style:italic;" >Y</text>
<text transform="translate(216.30,669.40) scale(1.15,1)" text-anchor="start" fill="#000" style="font-size:15.4px;" >(</text>
<text transform="translate(222.50,669.40) scale(1.08,1)" text-anchor="start" fill="#000" style="font-size:15.4px;font-style:italic;" >C</text>
<text transform="translate(233.80,669.40) scale(1.15,1)" text-anchor="start" fill="#000" style="font-size:15.4px;" >)</text>
<text transform="translate(0.60,482.70) scale(1.1,1)" text-anchor="start" fill="#000" style="font-size:22px;font-style:italic;" >P</text>
<text transform="translate(20.30,484.30) scale(0.85,1)" text-anchor="start" fill="#000" style="font-size:26.5px;" >(</text>
<text transform="translate(27.40,482.70) scale(1.12,1)" text-anchor="start" fill="#000" style="font-size:22px;font-style:italic;" >Y</text>
<text transform="translate(44.90,477.20) scale(1.15,1)" text-anchor="start" fill="#000" style="font-size:15.4px;" >(</text>
<text transform="translate(51.10,477.20) scale(1.08,1)" text-anchor="start" fill="#000" style="font-size:15.4px;font-style:italic;" >C</text>
<text transform="translate(62.40,477.20) scale(1.15,1)" text-anchor="start" fill="#000" style="font-size:15.4px;" >)</text>
<text transform="translate(69.60,484.30) scale(0.85,1)" text-anchor="start" fill="#000" style="font-size:26.5px;" >)</text>
<text transform="translate(168.90,396.50) scale(1.08,1)" text-anchor="middle" fill="#b5cbe0" style="font-size:12.3px;" stroke="#b5cbe0" stroke-width="0.2">0</text>
<text transform="translate(185.70,396.50) scale(1.08,1)" text-anchor="middle" fill="#2d5f92" style="font-size:12.3px;" stroke="#2d5f92" stroke-width="0.2">6</text>
<text transform="translate(202.00,396.50) scale(1.08,1)" text-anchor="middle" fill="#7ba6cc" style="font-size:12.3px;" stroke="#7ba6cc" stroke-width="0.2">2</text>
<text transform="translate(227.60,396.50) scale(1.08,1)" text-anchor="middle" fill="#a6c0d6" style="font-size:12.3px;" stroke="#a6c0d6" stroke-width="0.2">1</text>
<text transform="translate(276.70,396.50) scale(1.08,1)" text-anchor="middle" fill="#3f963f" style="font-size:12.3px;" stroke="#3f963f" stroke-width="0.2">8</text>
<text transform="translate(189.40,408.20) scale(1.08,1)" text-anchor="middle" fill="#5890c4" style="font-size:12.3px;" stroke="#5890c4" stroke-width="0.2">4</text>
<text transform="translate(208.60,408.20) scale(1.08,1)" text-anchor="middle" fill="#16285a" style="font-size:12.3px;" stroke="#16285a" stroke-width="0.2">9</text>
<text transform="translate(228.00,408.20) scale(1.08,1)" text-anchor="middle" fill="#6a9ac4" style="font-size:12.3px;" stroke="#6a9ac4" stroke-width="0.2">3</text>
<text transform="translate(189.40,419.50) scale(1.08,1)" text-anchor="middle" fill="#1e4f8a" style="font-size:12.3px;" stroke="#1e4f8a" stroke-width="0.2">7</text>
<text transform="translate(233.10,419.50) scale(1.08,1)" text-anchor="middle" fill="#4a82ba" style="font-size:12.3px;" stroke="#4a82ba" stroke-width="0.2">5</text>
<text transform="translate(110.6,426.8) skewX(-21) scale(0.79,1)" text-anchor="start" style="font-family:'DejaVu Sans','Liberation Sans',sans-serif;font-size:44px;font-weight:200;stroke:#000;stroke-width:2.3px" fill="#000">8</text>
<polyline points="433.3,606.3 437.2,606.4 442.5,606.6 448.8,606.8 455.8,607.0 462.9,607.3 469.8,607.5 475.9,607.6 481.0,607.7 485.0,607.7 488.5,607.7" fill="none" stroke="#5fb563" stroke-width="2.9" stroke-linejoin="round" stroke-linecap="butt" opacity="0.92" />
<polyline points="433.3,607.7 433.9,607.7 434.7,607.7 435.6,607.7 436.7,607.8 437.8,607.8 438.9,607.8 440.0,607.8 441.0,607.8 442.0,607.8 442.9,607.7 443.8,607.6 444.7,607.5 445.6,607.4 446.6,607.3 447.8,607.3 449.0,607.5 450.4,607.7 451.8,608.1 453.3,608.5 454.9,609.0 456.5,609.5 458.3,610.0 460.1,610.5 462.0,611.0 464.0,611.5 466.1,611.9 468.3,612.4 470.6,612.9 472.9,613.4 475.2,613.9 477.6,614.4 480.0,615.0 482.4,615.6 485.0,616.3 487.6,617.0 490.2,617.8 492.8,618.5 495.3,619.2 497.7,619.9 500.0,620.5 502.1,621.1 504.1,621.6 506.1,622.1 507.9,622.6 509.7,623.1 511.5,623.6 513.3,624.0 515.0,624.5 516.7,625.0 518.4,625.4 520.1,625.9 521.7,626.4 523.3,626.8 524.9,627.2 526.4,627.6 528.0,628.0 529.6,628.4 531.4,628.7 533.1,629.0 534.8,629.3 536.4,629.6 537.9,629.8 539.1,630.0 540.0,630.2 667.5,630.4" fill="none" stroke="#a9cbe3" stroke-width="2.5" stroke-linejoin="round" stroke-linecap="butt" opacity="0.82" />
<polyline points="433.3,603.3 433.9,603.3 434.7,603.3 435.6,603.3 436.7,603.2 437.8,603.2 438.9,603.2 440.0,603.2 441.0,603.2 442.0,603.2 443.0,603.3 444.1,603.4 445.1,603.5 446.1,603.5 447.1,603.6 448.1,603.6 449.0,603.5 449.8,603.4 450.5,603.2 451.2,603.0 451.8,602.7 452.4,602.4 453.2,602.1 454.0,601.8 455.0,601.5 456.2,601.2 457.4,600.8 458.8,600.5 460.2,600.1 461.7,599.7 463.3,599.3 464.9,598.9 466.5,598.5 468.2,598.0 470.1,597.5 472.0,597.0 474.0,596.4 476.0,595.9 477.8,595.4 479.5,594.9 481.0,594.6 482.2,594.4 483.3,594.4 484.2,594.4 485.0,594.5 485.7,594.5 486.5,594.5 487.4,594.3 488.4,593.9 489.5,593.3 490.7,592.5 491.9,591.6 493.1,590.6 494.4,589.6 495.8,588.6 497.2,587.5 498.6,586.6 500.1,585.7 501.7,584.7 503.4,583.8 505.2,582.8 506.9,581.9 508.6,581.1 510.2,580.2 511.8,579.5 513.3,578.8 514.7,578.1 516.2,577.5 517.5,576.9 518.9,576.4 520.2,575.9 521.5,575.7 522.7,575.5 523.9,575.5 525.0,575.7 526.1,575.9 527.2,576.3 528.2,576.8 529.3,577.3 530.3,577.8 531.3,578.3 532.3,578.8 533.3,579.3 534.2,579.8 535.2,580.3 536.1,581.0 537.1,581.7 538.0,582.5 538.9,583.5 539.8,584.7 540.7,586.0 541.6,587.4 542.5,588.9 543.4,590.5 544.3,592.2 545.1,593.8 545.9,595.4 546.7,597.0 547.4,598.7 548.1,600.4 548.8,602.1 549.5,603.9 550.2,605.5 550.9,607.2 551.6,608.7 552.3,610.2 553.0,611.6 553.7,613.0 554.3,614.3 555.0,615.6 555.7,616.8 556.5,618.0 557.3,619.1 558.2,620.1 559.0,621.1 560.0,622.0 560.9,622.8 561.9,623.6 562.9,624.4 563.8,625.0 564.8,625.7 565.7,626.3 566.6,626.9 567.6,627.4 568.5,627.8 569.4,628.2 570.4,628.6 571.4,628.9 572.4,629.2 573.6,629.4 574.9,629.6 576.2,629.7 577.6,629.8 578.9,629.9 580.1,629.9 581.2,630.0 581.9,630.0 667.5,630.4" fill="none" stroke="#8fbede" stroke-width="2.5" stroke-linejoin="round" stroke-linecap="butt" opacity="0.82" />
<polyline points="433.3,606.7 433.9,606.7 434.7,606.7 435.6,606.7 436.7,606.8 437.8,606.8 438.9,606.8 440.0,606.8 441.0,606.8 441.8,606.8 442.2,606.7 442.6,606.6 443.0,606.5 443.7,606.5 444.8,606.5 446.5,606.5 449.0,606.6 452.5,606.8 457.0,607.0 462.2,607.3 467.7,607.6 473.4,608.0 478.9,608.4 484.0,608.8 488.4,609.2 492.1,609.7 495.5,610.2 498.6,610.7 501.4,611.3 504.1,611.9 506.7,612.5 509.2,613.0 511.8,613.6 514.3,614.1 516.8,614.6 519.1,615.1 521.4,615.6 523.6,616.2 525.8,616.7 527.9,617.3 530.0,618.0 532.1,618.8 534.1,619.6 536.0,620.6 538.0,621.5 539.8,622.5 541.6,623.4 543.3,624.3 545.0,625.0 546.6,625.7 548.1,626.3 549.5,626.8 550.9,627.4 552.2,627.8 553.5,628.3 554.7,628.7 556.0,629.0 557.3,629.3 558.6,629.5 559.9,629.7 561.2,629.9 562.4,630.0 563.4,630.1 564.3,630.1 565.0,630.2 667.5,630.4" fill="none" stroke="#7fb0d6" stroke-width="2.5" stroke-linejoin="round" stroke-linecap="butt" opacity="0.82" />
<polyline points="433.3,604.3 433.9,604.3 434.7,604.3 435.6,604.3 436.7,604.2 437.8,604.2 438.9,604.2 440.0,604.2 441.0,604.2 441.9,604.2 442.6,604.3 443.2,604.3 443.9,604.4 444.8,604.4 445.8,604.5 447.2,604.5 449.0,604.4 451.3,604.3 454.1,604.2 457.2,604.0 460.5,603.8 464.0,603.6 467.4,603.3 470.7,603.1 473.8,602.8 476.7,602.5 479.5,602.2 482.2,601.9 484.9,601.5 487.6,601.2 490.3,600.8 493.0,600.3 495.7,599.9 498.5,599.4 501.4,599.0 504.3,598.5 507.2,598.0 510.1,597.4 512.8,596.8 515.3,596.2 517.6,595.5 519.6,594.7 521.5,593.8 523.2,592.8 524.8,591.8 526.2,590.8 527.5,589.9 528.8,589.0 530.0,588.3 531.1,587.7 532.0,587.2 532.8,586.7 533.6,586.3 534.2,586.0 534.9,585.7 535.6,585.4 536.4,585.2 537.2,585.0 538.0,584.8 538.9,584.7 539.7,584.6 540.5,584.6 541.3,584.6 542.2,584.8 543.0,585.0 543.8,585.3 544.7,585.7 545.5,586.1 546.4,586.6 547.3,587.2 548.1,587.9 548.9,588.8 549.7,589.7 550.5,590.8 551.2,592.0 551.9,593.4 552.6,594.9 553.3,596.4 554.0,598.0 554.7,599.5 555.4,601.1 556.1,602.7 556.8,604.4 557.4,606.1 558.1,607.9 558.8,609.6 559.5,611.3 560.2,612.9 561.0,614.4 561.9,615.8 562.8,617.2 563.7,618.5 564.7,619.7 565.7,620.9 566.7,622.0 567.6,623.0 568.6,623.9 569.6,624.7 570.5,625.5 571.5,626.2 572.5,626.8 573.5,627.3 574.4,627.8 575.3,628.2 576.2,628.6 577.0,628.9 577.9,629.2 578.7,629.4 579.5,629.6 580.3,629.7 580.9,629.8 581.5,629.9 581.9,630.0 667.5,630.4" fill="none" stroke="#5f9fcf" stroke-width="2.5" stroke-linejoin="round" stroke-linecap="butt" opacity="0.82" />
<polyline points="433.3,607.4 433.9,607.4 434.7,607.5 435.6,607.5 436.7,607.5 437.8,607.5 438.9,607.6 440.0,607.6 441.0,607.6 442.0,607.5 443.0,607.5 444.0,607.4 445.0,607.3 446.1,607.2 447.1,607.2 448.0,607.2 449.0,607.3 449.8,607.4 450.6,607.6 451.2,607.8 451.9,608.1 452.6,608.4 453.5,608.6 454.6,608.9 456.0,609.2 457.7,609.5 459.8,609.7 462.0,610.0 464.4,610.2 466.9,610.5 469.3,610.8 471.7,611.1 473.8,611.4 475.8,611.7 477.7,612.1 479.5,612.4 481.3,612.8 483.1,613.1 484.8,613.5 486.6,613.9 488.4,614.3 490.2,614.7 492.0,615.2 493.9,615.6 495.7,616.1 497.5,616.5 499.3,617.0 501.2,617.5 503.0,618.0 504.8,618.5 506.7,619.0 508.6,619.6 510.4,620.1 512.3,620.7 514.1,621.3 515.9,621.8 517.6,622.3 519.3,622.8 520.9,623.3 522.5,623.8 524.1,624.2 525.6,624.7 527.1,625.1 528.6,625.6 530.0,626.0 531.4,626.4 532.7,626.8 533.9,627.3 535.1,627.7 536.4,628.0 537.6,628.4 538.8,628.7 540.0,629.0 541.3,629.2 542.7,629.5 544.2,629.6 545.6,629.8 547.0,629.9 548.2,630.0 549.2,630.1 550.0,630.2 667.5,630.4" fill="none" stroke="#4a8cc4" stroke-width="2.5" stroke-linejoin="round" stroke-linecap="butt" opacity="0.82" />
<polyline points="433.3,604.1 433.9,604.0 434.7,604.0 435.6,604.0 436.7,604.0 437.8,604.0 438.9,603.9 440.0,603.9 441.0,603.9 441.9,604.0 442.6,604.0 443.2,604.1 443.9,604.2 444.8,604.3 445.8,604.3 447.2,604.3 449.0,604.2 451.3,604.0 454.1,603.8 457.2,603.6 460.5,603.3 464.0,603.0 467.4,602.6 470.7,602.3 473.8,601.9 476.7,601.5 479.6,601.1 482.5,600.7 485.3,600.3 488.0,599.8 490.7,599.3 493.3,598.8 495.7,598.2 498.0,597.6 500.1,596.9 502.2,596.2 504.1,595.5 506.0,594.7 507.9,593.9 509.8,593.2 511.8,592.4 513.8,591.6 515.9,590.8 518.0,590.0 520.1,589.1 522.1,588.3 524.0,587.5 525.8,586.7 527.5,586.0 529.0,585.3 530.4,584.6 531.6,583.9 532.8,583.3 533.9,582.7 534.9,582.1 536.0,581.6 537.0,581.2 538.0,580.9 539.0,580.6 539.9,580.4 540.7,580.2 541.6,580.1 542.4,580.1 543.2,580.1 544.0,580.2 544.8,580.3 545.5,580.5 546.2,580.8 546.9,581.1 547.6,581.4 548.3,581.9 549.0,582.4 549.7,583.1 550.4,583.8 551.1,584.7 551.8,585.6 552.6,586.6 553.3,587.7 554.0,588.9 554.7,590.2 555.4,591.6 556.1,593.2 556.8,595.0 557.5,597.0 558.2,599.0 558.9,601.1 559.6,603.1 560.3,605.0 561.0,606.8 561.7,608.4 562.4,610.0 563.0,611.5 563.7,613.0 564.4,614.4 565.1,615.7 565.9,617.0 566.7,618.2 567.6,619.4 568.5,620.5 569.4,621.5 570.4,622.5 571.4,623.4 572.4,624.3 573.3,625.1 574.3,625.8 575.3,626.5 576.4,627.1 577.5,627.7 578.6,628.2 579.6,628.6 580.5,629.0 581.3,629.3 581.9,629.6 667.5,630.4" fill="none" stroke="#3f7fba" stroke-width="2.5" stroke-linejoin="round" stroke-linecap="butt" opacity="0.82" />
<polyline points="433.3,606.2 433.9,606.2 434.7,606.2 435.6,606.2 436.7,606.3 437.8,606.3 438.9,606.3 440.0,606.3 441.0,606.3 442.0,606.3 443.0,606.2 444.0,606.2 445.0,606.1 446.1,606.1 447.1,606.1 448.0,606.1 449.0,606.2 449.8,606.3 450.6,606.4 451.2,606.6 451.9,606.9 452.6,607.1 453.5,607.3 454.6,607.6 456.0,607.8 457.7,608.0 459.8,608.2 462.0,608.4 464.4,608.6 466.9,608.8 469.3,609.0 471.7,609.2 473.8,609.5 475.8,609.8 477.7,610.0 479.5,610.3 481.3,610.6 483.1,611.0 484.8,611.3 486.6,611.6 488.4,612.0 490.2,612.4 492.0,612.8 493.9,613.2 495.7,613.6 497.5,614.1 499.3,614.5 501.2,615.0 503.0,615.5 504.8,616.0 506.7,616.5 508.6,617.1 510.4,617.6 512.3,618.2 514.1,618.7 515.9,619.3 517.6,619.8 519.3,620.3 520.9,620.8 522.4,621.2 524.0,621.7 525.5,622.1 527.0,622.6 528.5,623.0 530.0,623.5 531.5,624.0 533.1,624.5 534.6,625.0 536.1,625.6 537.7,626.1 539.1,626.6 540.6,627.1 542.0,627.5 543.4,627.9 544.9,628.3 546.3,628.7 547.8,629.0 549.1,629.4 550.2,629.7 551.2,629.9 552.0,630.1 667.5,630.4" fill="none" stroke="#2e6aa6" stroke-width="2.5" stroke-linejoin="round" stroke-linecap="butt" opacity="0.82" />
<polyline points="433.3,605.0 433.9,605.0 434.7,605.0 435.6,605.0 436.7,605.0 437.8,605.0 438.9,605.0 440.0,605.0 441.0,605.0 441.9,605.0 442.6,605.0 443.2,605.1 443.9,605.1 444.8,605.2 445.8,605.2 447.2,605.1 449.0,605.1 451.3,604.9 453.9,604.7 456.9,604.5 460.1,604.3 463.4,604.0 466.9,603.8 470.4,603.6 473.8,603.4 477.3,603.2 481.1,603.1 485.1,602.9 489.0,602.8 492.9,602.7 496.6,602.6 500.0,602.6 503.0,602.6 505.5,602.6 507.7,602.7 509.6,602.7 511.4,602.8 512.9,603.0 514.4,603.3 516.0,603.6 517.6,604.1 519.3,604.8 521.0,605.6 522.8,606.6 524.4,607.7 526.0,608.7 527.5,609.7 528.8,610.7 530.0,611.4 530.9,611.9 531.6,612.3 532.0,612.6 532.4,612.9 532.8,613.1 533.2,613.4 533.8,613.8 534.5,614.4 535.4,615.1 536.5,616.0 537.7,617.0 538.9,618.0 540.2,619.1 541.5,620.1 542.8,621.1 544.0,622.0 545.2,622.8 546.4,623.6 547.6,624.4 548.8,625.1 549.9,625.8 551.1,626.5 552.3,627.1 553.5,627.6 554.8,628.1 556.1,628.5 557.5,628.8 558.8,629.2 560.1,629.4 561.3,629.6 562.3,629.8 563.0,630.0 667.5,630.4" fill="none" stroke="#27598f" stroke-width="2.5" stroke-linejoin="round" stroke-linecap="butt" opacity="0.82" />
<polyline points="485.0,607.7 488.5,607.7 491.5,607.6 494.1,607.5 496.4,607.4 498.6,607.3 500.8,607.1 503.0,607.0 505.2,606.9 507.4,606.7 509.4,606.6 511.3,606.4 513.1,606.3 514.7,606.0 516.2,605.8 517.6,605.5 518.7,605.2 519.6,604.9 520.4,604.5 521.0,604.1 521.6,603.7 522.1,603.2 522.7,602.6 523.4,601.9 524.2,601.1 525.0,600.2 525.9,599.2 526.8,598.2 527.6,597.1 528.4,596.0 529.2,594.9 530.0,593.9 530.7,592.9 531.4,591.9 532.0,591.0 532.7,590.0 533.3,589.0 533.9,588.0 534.4,587.0 535.0,585.9 535.5,584.8 536.0,583.8 536.5,582.7 536.9,581.6 537.4,580.4 537.9,579.2 538.4,577.9 538.9,576.4 539.5,574.8 540.1,573.0 540.8,571.2 541.5,569.3 542.1,567.3 542.8,565.3 543.4,563.2 544.0,561.2 544.5,559.2 545.0,557.2 545.5,555.2 546.0,553.2 546.4,551.1 546.9,548.9 547.3,546.6 547.8,544.2 548.3,541.5 548.8,538.6 549.3,535.6 549.8,532.5 550.3,529.4 550.8,526.4 551.2,523.7 551.6,521.4 551.9,519.5 552.2,518.2 552.4,517.1 552.6,516.1 552.8,515.0 553.0,513.8 553.2,512.2 553.5,510.0 553.8,507.2 554.1,504.0 554.5,500.4 554.8,496.6 555.2,492.7 555.6,488.7 555.9,484.9 556.3,481.3 556.7,477.8 557.0,474.4 557.4,470.9 557.7,467.5 558.1,464.2 558.5,460.9 558.8,457.7 559.2,454.7 559.6,451.8 559.9,449.0 560.3,446.3 560.6,443.7 561.0,441.1 561.3,438.6 561.7,436.2 562.0,433.8 562.3,431.5 562.6,429.3 562.9,427.1 563.2,425.0 563.5,422.9 563.9,420.9 564.3,418.8 564.8,416.7 565.4,414.5 566.0,412.2 566.7,409.9 567.5,407.7 568.2,405.5 569.0,403.4 569.8,401.4 570.5,399.7 571.2,398.2 571.9,396.9 572.6,395.7 573.4,394.6 574.1,393.6 574.8,392.8 575.5,391.9 576.2,391.1 576.9,390.3 577.6,389.7 578.3,389.1 578.9,388.6 579.6,388.1 580.3,387.6 581.1,387.2 581.9,386.8 582.7,386.4 583.6,386.0 584.4,385.7 585.3,385.4 586.3,385.2 587.3,384.9 588.4,384.7 589.5,384.5 590.6,384.3 591.7,384.2 592.7,384.1 593.9,384.1 595.2,384.0 596.7,384.0 598.6,383.9 600.9,383.9 603.6,383.9 606.7,383.8 610.1,383.8 613.8,383.8 617.7,383.8 621.7,383.8 625.8,383.8 630.0,383.8 634.5,383.8 639.7,383.8 645.1,383.8 650.6,383.7 655.8,383.7 660.6,383.7 664.5,383.7 667.5,383.7" fill="none" stroke="#5fb563" stroke-width="2.9" stroke-linejoin="round" stroke-linecap="butt" opacity="0.92" />
<polyline points="433.3,606.0 433.9,606.0 434.7,606.0 435.6,606.0 436.7,606.0 437.8,606.0 438.9,606.0 440.0,606.0 441.0,606.0 441.9,606.0 442.6,606.0 443.2,606.0 443.9,606.0 444.8,605.9 445.8,605.9 447.2,605.9 449.0,605.9 451.3,606.0 454.1,606.0 457.2,606.0 460.5,606.0 464.0,606.1 467.4,606.1 470.7,606.2 473.8,606.3 476.7,606.4 479.6,606.6 482.5,606.7 485.3,606.9 488.0,607.1 490.7,607.3 493.3,607.5 495.7,607.7 498.0,607.9 500.1,608.1 502.1,608.3 504.0,608.6 505.9,608.8 507.8,609.1 509.7,609.5 511.8,609.9 514.0,610.4 516.3,610.9 518.7,611.4 521.0,612.0 523.4,612.7 525.7,613.4 527.9,614.2 530.0,615.0 532.0,616.0 533.9,617.1 535.8,618.3 537.5,619.5 539.3,620.8 540.9,622.0 542.5,623.1 544.0,624.0 545.4,624.8 546.7,625.5 547.9,626.1 549.0,626.7 550.1,627.2 551.2,627.7 552.3,628.1 553.5,628.5 554.8,628.8 556.1,629.1 557.5,629.4 558.8,629.6 560.1,629.7 561.3,629.9 562.3,630.0 563.0,630.1 667.5,630.4" fill="none" stroke="#1b3f72" stroke-width="2.5" stroke-linejoin="round" stroke-linecap="butt" opacity="0.82" />
<rect x="433.0" y="383.0" width="234.50" height="247.80" fill="none" stroke="#000" stroke-width="1.8"/>
<path d="M456.80 630.8v-3.6M470.54 630.8v-3.6M480.29 630.8v-3.6M487.85 630.8v-3.6M494.03 630.8v-3.6M499.26 630.8v-3.6M503.79 630.8v-3.6M507.78 630.8v-3.6M534.85 630.8v-3.6M548.59 630.8v-3.6M558.34 630.8v-3.6M565.90 630.8v-3.6M572.08 630.8v-3.6M577.31 630.8v-3.6M581.84 630.8v-3.6M585.83 630.8v-3.6M612.90 630.8v-3.6M626.64 630.8v-3.6M636.39 630.8v-3.6M643.95 630.8v-3.6M650.13 630.8v-3.6M655.36 630.8v-3.6M659.89 630.8v-3.6M663.88 630.8v-3.6" stroke="#000" stroke-width="1.1" fill="none"/>
<path d="M511.35 630.8v-6.4M589.40 630.8v-6.4" stroke="#000" stroke-width="1.4" fill="none"/>
<path d="M433.0 507.00h6.4" stroke="#000" stroke-width="1.4" fill="none"/>
<path d="M589.4 383.0V630.8" stroke="#000" stroke-width="1.15" stroke-dasharray="3.2 1.65" fill="none"/>
<text transform="translate(360.00,396.30) scale(1.09,1)" text-anchor="start" fill="#000" style="font-size:20.5px;" >(c)</text>
<text transform="translate(426.50,389.60) scale(1.045,1)" text-anchor="end" fill="#000" style="font-size:18.3px;" >1.0</text>
<text transform="translate(426.50,513.60) scale(1.045,1)" text-anchor="end" fill="#000" style="font-size:18.3px;" >0.5</text>
<text transform="translate(426.50,638.20) scale(1.045,1)" text-anchor="end" fill="#000" style="font-size:18.3px;" >0.0</text>
<text transform="translate(415.56,657.20) scale(1.07,1)" text-anchor="start" fill="#000" style="font-size:18.3px;" >10</text>
<text transform="translate(435.44,651.30) scale(1.15,1)" text-anchor="start" fill="#000" style="font-size:13.0px;" >−2</text>
<text transform="translate(493.61,657.20) scale(1.07,1)" text-anchor="start" fill="#000" style="font-size:18.3px;" >10</text>
<text transform="translate(513.49,651.30) scale(1.15,1)" text-anchor="start" fill="#000" style="font-size:13.0px;" >−1</text>
<text transform="translate(575.87,657.20) scale(1.07,1)" text-anchor="start" fill="#000" style="font-size:18.3px;" >10</text>
<text transform="translate(595.75,651.30) scale(1.15,1)" text-anchor="start" fill="#000" style="font-size:13.0px;" >0</text>
<text transform="translate(653.92,657.20) scale(1.07,1)" text-anchor="start" fill="#000" style="font-size:18.3px;" >10</text>
<text transform="translate(673.80,651.30) scale(1.15,1)" text-anchor="start" fill="#000" style="font-size:13.0px;" >1</text>
<text transform="translate(544.40,681.50) scale(1.15,1)" text-anchor="start" fill="#000" style="font-size:22px;font-style:italic;" >t</text>
<text transform="translate(551.60,684.20) scale(1.2,1)" text-anchor="start" fill="#000" style="font-size:15.4px;" >f</text>
<text transform="translate(372.60,484.90) scale(1.15,1)" text-anchor="start" fill="#000" style="font-size:22px;font-style:italic;" >p</text>
<text transform="translate(386.40,479.20) scale(1.15,1)" text-anchor="start" fill="#000" style="font-size:15.4px;" >(</text>
<text transform="translate(392.60,479.20) scale(1.08,1)" text-anchor="start" fill="#000" style="font-size:15.4px;font-style:italic;" >C</text>
<text transform="translate(403.90,479.20) scale(1.15,1)" text-anchor="start" fill="#000" style="font-size:15.4px;" >)</text>
<text transform="translate(441.6,426.8) skewX(-21) scale(0.79,1)" text-anchor="start" style="font-family:'DejaVu Sans','Liberation Sans',sans-serif;font-size:44px;font-weight:200;stroke:#000;stroke-width:2.3px" fill="#000">8</text>
</svg>
</body></html>
